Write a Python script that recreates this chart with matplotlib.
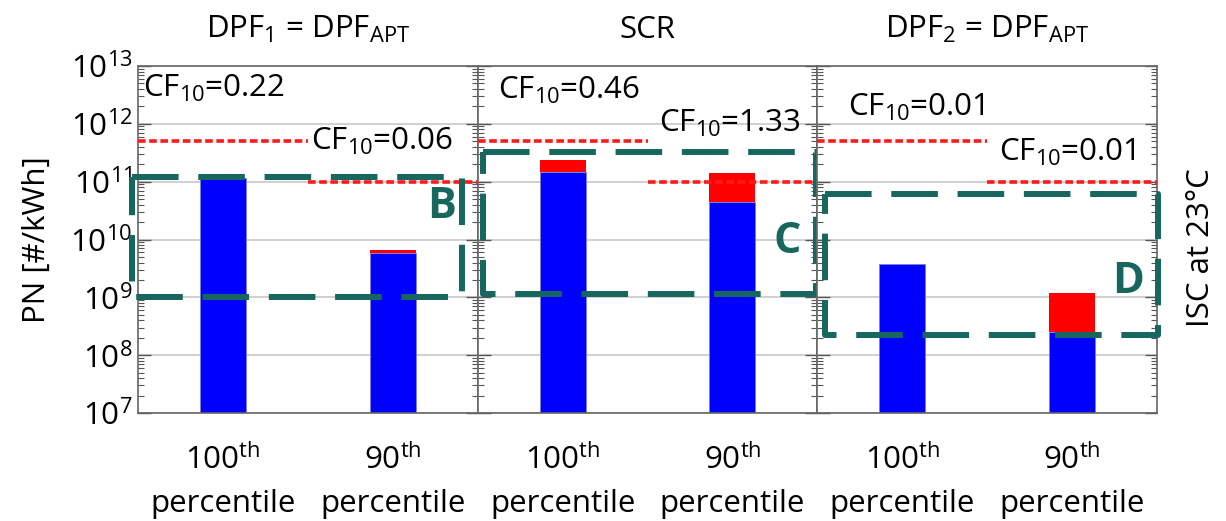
import matplotlib
matplotlib.use("Agg")
import matplotlib.pyplot as plt
from matplotlib.ticker import LogLocator, NullFormatter
import numpy as np

# ---- data ----
panel_titles = [r"DPF$_{1}$ = DPF$_{APT}$", "SCR", r"DPF$_{2}$ = DPF$_{APT}$"]
categories = [r"100$^{th}$" + "\npercentile", r"90$^{th}$" + "\npercentile"]
blue_values = [[1.15e11, 5.9e9], [1.47e11, 4.5e10], [3.7e9, 2.5e8]]
total_values = [[1.16e11, 6.5e9], [2.4e11, 1.39e11], [3.7e9, 1.17e9]]
limit_100th = 5e11
limit_90th = 1e11
cf_100th = ["0.22", "0.46", "0.01"]
cf_90th = ["0.06", "1.33", "0.01"]
box_labels = ["B", "C", "D"]

# annotation layout (positions only)
cf1_pos = [(0.53, 10**12.62), (0.62, 10**12.58), (0.68, 10**12.29)]
cf2_pos = [(1.52, 10**11.69), (1.57, 10**12.0), (1.57, 10**11.51)]
boxes = [(0.463, 2.406, 1e9, 1.22e11), (0.53, 2.494, 1.14e9, 3.2e11), (0.547, 2.506, 2.2e8, 6.2e10)]
box_label_pos = [(2.29, 10**10.57), (2.32, 10**9.96), (2.33, 10**9.27)]

plt.rcParams['font.family'] = ['Open Sans', 'DejaVu Sans']
plt.rcParams['mathtext.default'] = 'regular'

FS = 22.5
teal = '#17675f'
fig = plt.figure(figsize=(12.26, 5.21), dpi=100)
left, right, bottom, top = 0.1126, 0.9437, 0.2073, 0.8733
w = (right - left) / 3
axes = []
x = np.arange(1, len(categories) + 1)
for i in range(3):
    ax = fig.add_axes([left + i * w, bottom, w, top - bottom])
    axes.append(ax)
    ax.set_yscale('log')
    ax.set_ylim(1e7, 1e13)
    ax.set_xlim(0.5, 2.5)
    blue = np.array(blue_values[i])
    total = np.array(total_values[i])
    ax.yaxis.grid(True, which='major', color='#c8c8c8', lw=1.2, zorder=0)
    ax.set_axisbelow(True)
    ax.bar(x, blue, width=0.27, color='#0000ff', edgecolor='#8080d0', lw=0.6, zorder=2)
    ax.bar(x, total - blue, bottom=blue, width=0.27, color='#ff0000', edgecolor='none', zorder=2)
    ax.plot([0.5, 1.5], [limit_100th] * 2, color='#ff1a1a', lw=2.6, dashes=(2.1, 1.0), zorder=3)
    ax.plot([1.5, 2.5], [limit_90th] * 2, color='#ff1a1a', lw=2.6, dashes=(2.1, 1.0), zorder=3)
    ax.text(*cf1_pos[i], r"CF$_{10}$=" + cf_100th[i], fontsize=FS, va='center', ha='left', zorder=5)
    ax.text(*cf2_pos[i], r"CF$_{10}$=" + cf_90th[i], fontsize=FS, va='center', ha='left', zorder=5)
    x0, x1, y0, y1 = boxes[i]
    ax.plot([x0, x1, x1, x0, x0], [y1, y1, y0, y0, y1], color=teal, lw=4.3,
            dashes=(7.8, 3.3), clip_on=False, zorder=6, solid_joinstyle='miter')
    ax.text(*box_label_pos[i], box_labels[i], fontsize=31, fontweight='bold', color=teal,
            ha='center', va='center', zorder=6)
    ax.set_title(panel_titles[i], fontsize=FS, pad=20)
    ax.set_xticks(x)
    ax.set_xticklabels(categories, fontsize=FS, linespacing=1.6)
    ax.tick_params(axis='x', length=0, pad=22)
    ax.set_yticks([1e7, 1e8, 1e9, 1e10, 1e11, 1e12, 1e13])
    ax.yaxis.set_minor_locator(LogLocator(base=10, subs=np.arange(2, 10), numticks=100))
    ax.yaxis.set_minor_formatter(NullFormatter())
    ax.tick_params(axis='y', which='both', direction='in', left=True, right=True, colors='#555555')
    ax.tick_params(axis='y', which='major', length=9, width=1.0, labelsize=FS, labelcolor='black', pad=4)
    ax.tick_params(axis='y', which='minor', length=4, width=0.8)
    for s in ax.spines.values():
        s.set_color('#666666')
        s.set_linewidth(1.2)
    if i > 0:
        ax.set_yticklabels([])

fig.text(0.030, 0.54, "PN [#/kWh]", rotation=90, fontsize=FS, ha='center', va='center')
fig.text(0.9796, 0.524, "ISC at 23°C", rotation=90, fontsize=FS, ha='center', va='center')

fig.savefig("out.png", dpi=100)
